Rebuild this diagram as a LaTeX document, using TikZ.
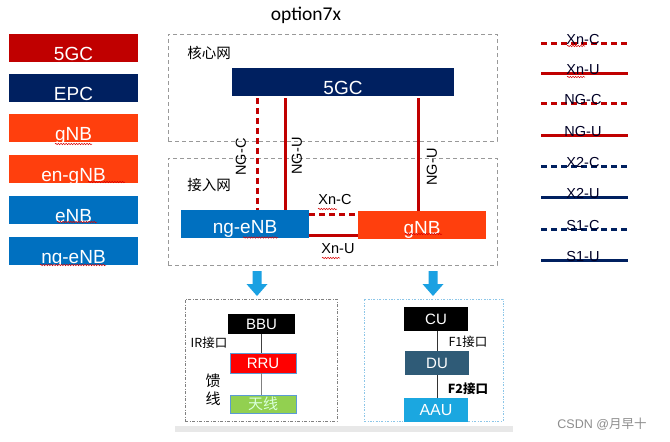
\documentclass[tikz,border=0pt]{standalone}
\usepackage{fontspec}
\setmainfont{Liberation Sans}
\newfontfamily\cjk{Noto Sans CJK SC}
\newfontfamily\calib{Carlito}
\usetikzlibrary{decorations.pathmorphing}
\definecolor{cred}{HTML}{C00000}
\definecolor{cnavy}{HTML}{002060}
\definecolor{corange}{HTML}{FF3F0D}
\definecolor{cblue}{HTML}{0070C0}
\definecolor{carrow}{HTML}{1BA1E2}
\definecolor{cdu}{HTML}{2F5B77}
\definecolor{caau}{HTML}{1BA7E0}
\definecolor{cgreen}{HTML}{92D050}
\definecolor{cborder}{HTML}{5B9BD5}
\definecolor{cdot}{HTML}{8CC6E8}
\tikzset{
  legbox/.style={minimum width=129pt, minimum height=28pt, inner sep=0pt, text=white,
    font=\fontsize{19}{19}\selectfont, text height=24pt, text depth=0pt},
  bigbox/.style={minimum height=28pt, inner sep=0pt, text=white,
    font=\fontsize{19}{19}\selectfont, text depth=0pt},
  region/.style={draw=gray!80, line width=0.9pt, dash pattern=on 4pt off 3pt, minimum width=329pt, minimum height=107pt, inner sep=0pt},
  redsolid/.style={draw=cred, line width=3pt},
  reddash/.style={draw=cred, line width=3pt, dash pattern=on 6pt off 4pt},
  navysolid/.style={draw=cnavy, line width=3pt},
  navydash/.style={draw=cnavy, line width=3pt, dash pattern=on 6pt off 4pt},
  leglabel/.style={anchor=base, inner sep=0pt, font=\fontsize{14.5}{14.5}\selectfont, text=black!85!blue},
  linklabel/.style={inner sep=0pt, font=\fontsize{14.5}{14.5}\selectfont},
  cjklabel/.style={inner sep=0pt, font=\cjk\fontsize{14.5}{14.5}\selectfont},
  smallbox/.style={inner sep=0pt, text=white, font=\fontsize{15}{15}\selectfont},
  iflabel/.style={inner sep=0pt, font=\cjk\fontsize{12.5}{12.5}\selectfont},
  squig/.style={draw=red!85!black, line width=0.5pt, decorate, decoration={snake, amplitude=0.7pt, segment length=2.6pt}},
  downarrow/.style={fill=carrow, draw=none}
}
\begin{document}
\begin{tikzpicture}[x=1pt,y=-1pt]
\useasboundingbox (0,0) rectangle (670,442);
\fill[white] (0,0) rectangle (670,442);

% title
\node (title) [inner sep=0pt, font=\calib\fontsize{19.5}{19.5}\selectfont] at (306,15) {option7x};

% left legend
\node (l5gc)  [legbox, fill=cred]    at (73.5,48)  {5GC};
\node (lepc)  [legbox, fill=cnavy]   at (73.5,88)  {EPC};
\node (lgnb)  [legbox, fill=corange] at (73.5,128) {gNB};
\node (lengnb)[legbox, fill=corange] at (73.5,169) {en-gNB};
\node (lenb)  [legbox, fill=cblue]   at (73.5,210) {eNB};
\node (lngenb)[legbox, fill=cblue]   at (73.5,251) {ng-eNB};
\draw[squig] (55,144) -- (92,144);
\draw[squig] (88,182) -- (125,182);
\draw[squig] (57,222) -- (97,222);
\draw[squig] (40,265) -- (106,265);

% regions
\node (core)   [region] at (332.5,87.5) {};
\node (access) [region] at (332.5,211.5) {};
\node (corelbl)   [cjklabel] at (209,53)  {核心网};
\node (accesslbl) [cjklabel] at (209,185) {接入网};

% core and access nodes
\node (c5gc) [bigbox, fill=cnavy, minimum width=222pt, text height=25pt] at (343,82) {5GC};
\node (ngenb) [bigbox, fill=cblue, minimum width=128pt, text height=19.5pt] at (245,224) {ng-eNB};
\node (gnb) [bigbox, fill=corange, minimum width=128pt, text height=18.5pt] at (422,225) {gNB};
\draw[squig] (243,237.5) -- (278,237.5);
\draw[squig] (405,234) -- (442,234);

% NG links
\draw[reddash]  ([xshift=26pt,yshift=-2pt]c5gc.south west) -- ([xshift=77pt]ngenb.north west);
\draw[redsolid] ([xshift=54pt,yshift=-2pt]c5gc.south west) -- ([xshift=105pt]ngenb.north west);
\draw[redsolid] ([xshift=187pt,yshift=-2pt]c5gc.south west) -- ([xshift=61pt]gnb.north west);
\node (ngc)  [linklabel, rotate=90] at (241,157) {NG-C};
\node (ngu1) [linklabel, rotate=90] at (297,156) {NG-U};
\node (ngu2) [linklabel, rotate=90] at (432,167) {NG-U};

% Xn links
\draw[reddash]  ([yshift=-5pt]ngenb.north east) -- ([yshift=-4pt]gnb.north west);
\draw[redsolid] ([yshift=3pt]ngenb.south east) -- ([yshift=4pt]gnb.south west);
\node (xnc) [linklabel] at (335,200) {Xn-C};
\node (xnu) [linklabel] at (338,249) {Xn-U};
\draw[squig] (318,209) -- (337,209);
\draw[squig] (322,258) -- (340,258);

% right legend
\foreach \nm/\yy/\st in {Xn-C/43/reddash, Xn-U/73/redsolid, NG-C/103/reddash, NG-U/135/redsolid,
                         X2-C/166/navydash, X2-U/197/navysolid, S1-C/229/navydash, S1-U/260/navysolid}{
  \coordinate (a\nm) at (541,\yy);
  \coordinate (b\nm) at (628,\yy);
  \draw[\st] (a\nm) -- (b\nm);
  \node (t\nm) [leglabel] at (583,\yy+1) {\nm};
}
\draw[squig] (567,46) -- (585,46);
\draw[squig] (567,77) -- (585,77);

% down arrows
\fill[downarrow] (252.5,271) -- (261.5,271) -- (261.5,284) -- (267.5,284) -- (257,296) -- (246.5,284) -- (252.5,284) -- cycle;
\fill[downarrow] (428.5,271) -- (437.5,271) -- (437.5,284) -- (443.5,284) -- (433,296) -- (422.5,284) -- (428.5,284) -- cycle;

% bottom left box (4G)
\node (lte) [draw=gray, line width=0.8pt, dash pattern=on 3pt off 1.5pt on 1pt off 1.5pt, minimum width=152pt, minimum height=122pt, inner sep=0pt] at (261,360) {};
\node (bbu) [smallbox, fill=black, minimum width=67pt, minimum height=20pt] at (261.5,324) {BBU};
\node (rru) [smallbox, fill=red, draw=cborder, line width=0.6pt, minimum width=66pt, minimum height=20pt] at (263,363) {RRU};
\node (ant) [smallbox, fill=cgreen, draw=cborder, line width=0.6pt, minimum width=66pt, minimum height=18pt, text=white!85!green, font=\cjk\fontsize{15}{15}\selectfont] at (263,404) {天线};
\draw[black!75, line width=1pt] (bbu.south) -- (bbu.south |- rru.north);
\draw[gray, line width=1pt] (rru.south -| bbu.south) -- (bbu.south |- ant.north);
\node (irif) [iflabel] at (209,343) {IR接口};
\node (feed1) [iflabel, font=\cjk\fontsize{15}{15}\selectfont] at (213,381) {馈};
\node (feed2) [iflabel, font=\cjk\fontsize{15}{15}\selectfont] at (213,399) {线};

% bottom right box (5G)
\node (nr) [draw=cdot, line width=0.8pt, dash pattern=on 2pt off 1.5pt on 0.8pt off 1.5pt, minimum width=139pt, minimum height=122pt, inner sep=0pt] at (433.5,360) {};
\node (cu)  [smallbox, fill=black, minimum width=64pt, minimum height=24pt] at (436,319) {CU};
\node (du)  [smallbox, fill=cdu,   minimum width=64pt, minimum height=24pt] at (437,363) {DU};
\node (aau) [smallbox, fill=caau,  minimum width=64pt, minimum height=24pt, font=\fontsize{16}{16}\selectfont] at (436,410) {AAU};
\draw[black!80, line width=1pt] (cu.south -| du.north) -- (du.north);
\draw[black!80, line width=1pt] (du.south) -- (du.south |- aau.north);
\node (f1if) [iflabel] at (468,342) {F1接口};
\node (f2if) [iflabel, font=\cjk\bfseries\fontsize{12.5}{12.5}\selectfont] at (468,389) {\textbf{F2}接口};

% bottom gray bar
\fill[black!9] (175,426) rectangle (513,432);

% watermark
\node (wm) [inner sep=0pt, text=black!45, font=\fontsize{12.5}{12.5}\selectfont] at (602,424) {CSDN @{\cjk 月早十}};
\end{tikzpicture}
\end{document}
